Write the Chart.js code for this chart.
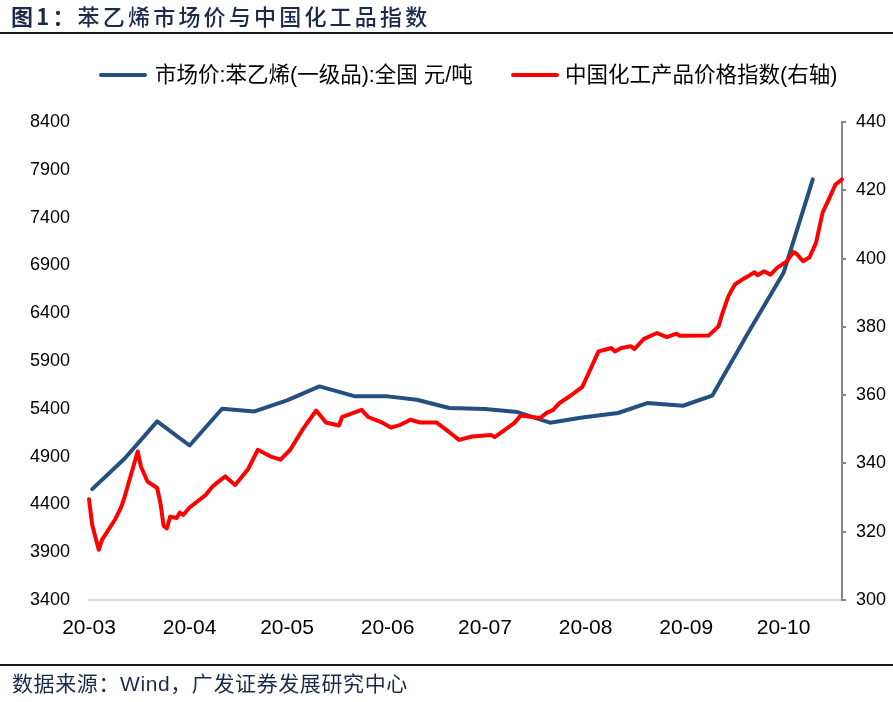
<!DOCTYPE html>
<html><head><meta charset="utf-8">
<script src="https://cdn.jsdelivr.net/npm/chart.js@4.4.1/dist/chart.umd.min.js"></script>
<style>
html,body{margin:0;padding:0;background:#fff;}
#wrap{position:relative;width:893px;height:702px;overflow:hidden;}
#c{position:absolute;left:0;top:0;}
#title{position:absolute;left:11px;top:2px;font-size:22px;letter-spacing:3.2px;color:#1b2a4a;font-family:"Noto Sans CJK SC",sans-serif;white-space:nowrap;line-height:26px;}
#title b{font-weight:700}
#title span{font-weight:500}
#tline{position:absolute;left:0;top:32px;width:893px;height:2px;background:#1a1a1a;}
#fline{position:absolute;left:0;top:664px;width:893px;height:2px;background:#1a1a1a;}
#foot{position:absolute;left:12px;top:672px;font-size:21px;letter-spacing:0.6px;color:#1b2a4a;font-family:"Liberation Sans","Noto Sans CJK SC",sans-serif;white-space:nowrap;line-height:24px;}
.lg{position:absolute;top:63px;height:24px;line-height:24px;font-size:21.5px;color:#000;font-family:"Liberation Sans","Noto Sans CJK SC",sans-serif;white-space:nowrap;}
.lg i{display:inline-block;width:48px;height:4px;border-radius:2px;vertical-align:middle;position:relative;top:-1px;}
</style>
</head><body>
<div id="wrap">
<canvas id="c" width="893" height="702"></canvas>
<div id="title"><b>图1：</b><span>苯乙烯市场价与中国化工品指数</span></div>
<div id="tline"></div>
<div id="legend"></div>
<div id="fline"></div>
<div id="foot">数据来源：Wind，广发证券发展研究中心</div>
</div>
<script>
// ---- data ----
const blueLabel = '市场价:苯乙烯(一级品):全国 元/吨';
const redLabel = '中国化工产品价格指数(右轴)';
const xTickDates = ['2020-03-02','2020-04-02','2020-05-02','2020-06-02','2020-07-02','2020-08-02','2020-09-02','2020-10-02'];
const xTickLabels = ['20-03','20-04','20-05','20-06','20-07','20-08','20-09','20-10'];
const xMin = '2020-03-02';
const xMax = '2020-10-20';

const blueDates = ['2020-03-03','2020-03-13','2020-03-23','2020-04-02','2020-04-12','2020-04-22','2020-05-02','2020-05-12','2020-05-23','2020-06-02','2020-06-11','2020-06-21','2020-07-02','2020-07-12','2020-07-22','2020-08-01','2020-08-12','2020-08-21','2020-09-01','2020-09-10','2020-09-21','2020-10-02','2020-10-11'];
const blueValues = [4560,4880,5268,5016,5400,5372,5488,5634,5530,5530,5495,5408,5398,5366,5255,5310,5356,5460,5432,5537,6190,6822,7800];

const redDates = ['2020-03-02','2020-03-03','2020-03-05','2020-03-06','2020-03-10','2020-03-12','2020-03-13','2020-03-17','2020-03-18','2020-03-20','2020-03-23','2020-03-24','2020-03-25','2020-03-26','2020-03-27','2020-03-29','2020-03-30','2020-03-31',
'2020-04-02','2020-04-07','2020-04-09','2020-04-10','2020-04-13','2020-04-16','2020-04-20','2020-04-23','2020-04-27','2020-04-30',
'2020-05-03','2020-05-07','2020-05-11','2020-05-14','2020-05-18','2020-05-19','2020-05-21','2020-05-25','2020-05-27','2020-05-31',
'2020-06-03','2020-06-06','2020-06-09','2020-06-12','2020-06-17','2020-06-20','2020-06-22','2020-06-24','2020-06-28',
'2020-07-04','2020-07-05','2020-07-11','2020-07-13','2020-07-19','2020-07-21','2020-07-23','2020-07-25','2020-07-28',
'2020-08-01','2020-08-02','2020-08-06','2020-08-10','2020-08-11','2020-08-13','2020-08-16','2020-08-17','2020-08-20','2020-08-24','2020-08-27','2020-08-30','2020-08-31',
'2020-09-09','2020-09-12','2020-09-13','2020-09-15','2020-09-17','2020-09-19','2020-09-21','2020-09-23','2020-09-24','2020-09-26','2020-09-28','2020-09-30',
'2020-10-03','2020-10-05','2020-10-06','2020-10-08','2020-10-10','2020-10-12','2020-10-14','2020-10-16','2020-10-18','2020-10-20'];
const redValues = [329.5,322.0,314.7,317.6,323.5,327.4,330.3,343.5,339.1,334.7,332.8,328.4,321.7,321.0,324.4,324.0,325.6,324.9,
327.1,330.8,333.2,334.0,336.2,333.7,338.3,344.0,342.0,341.1,
344.0,350.2,355.5,352.0,351.1,353.6,354.3,355.7,353.6,352.1,
350.5,351.3,352.8,352.0,352.0,349.9,348.4,346.9,347.9,
348.3,347.7,351.8,354.0,353.3,354.8,355.7,357.7,359.6,
362.4,364.5,372.8,373.8,372.8,373.8,374.3,373.5,376.5,378.2,377.0,378.0,377.4,
377.5,380.2,383.5,389.0,392.4,393.7,394.8,396.0,395.1,396.3,395.3,397.3,
399.2,401.9,401.4,399.2,400.4,404.6,413.4,417.5,421.7,423.2];

const leftTicks = {min:3400, max:8400, step:500};
const rightTicks = {min:300, max:440, step:20};

// ---- helpers ----
const base = (function(){const [y,m,d]=xMin.split('-').map(Number);return Date.UTC(y,m-1,d);})();
const off = s => { const [y,m,d] = s.split('-').map(Number); return (Date.UTC(y,m-1,d) - base)/86400000; };

const BLUE = '#24507f', RED = '#ff0000';

const chart = new Chart(document.getElementById('c'), {
  type: 'line',
  data: {
    datasets: [
      {label: blueLabel, data: blueDates.map((d,i)=>({x:off(d), y:blueValues[i]})), borderColor: BLUE, backgroundColor: BLUE,
       borderWidth: 4, pointRadius: 0, tension: 0, yAxisID: 'y', clip: false, borderCapStyle:'round', borderJoinStyle:'round', order: 1},
      {label: redLabel, data: redDates.map((d,i)=>({x:off(d), y:redValues[i]})), borderColor: RED, backgroundColor: RED,
       borderWidth: 4, pointRadius: 0, tension: 0, yAxisID: 'y1', clip: false, borderCapStyle:'round', borderJoinStyle:'round', order: 0}
    ]
  },
  options: {
    responsive: false, animation: false, devicePixelRatio: 1,
    layout: {padding: {left: 0, right: 0, top: 122, bottom: 62}},
    plugins: {legend: {display: false}, tooltip: {enabled: false}, title: {display: false}},
    scales: {
      x: {
        type: 'linear', min: off(xMin), max: off(xMax),
        afterBuildTicks: s => { s.ticks = xTickDates.map(d => ({value: off(d)})); },
        ticks: {callback: (v, i) => xTickLabels[i], autoSkip: false, maxRotation: 0, color: '#000', padding: 16,
                font: {family: 'Liberation Sans', size: 21}},
        grid: {display: false, drawTicks: false},
        border: {display: true, color: '#d9d9d9', width: 2},
        afterFit: s => { s.height = 40; }
      },
      y: {
        position: 'left', min: leftTicks.min, max: leftTicks.max,
        ticks: {stepSize: leftTicks.step, color: '#000', padding: 19, font: {family: 'Liberation Sans', size: 18},
                callback: v => String(v)},
        grid: {display: false, drawTicks: false},
        border: {display: false},
        afterFit: s => { s.width = 89; }
      },
      y1: {
        position: 'right', min: rightTicks.min, max: rightTicks.max,
        ticks: {stepSize: rightTicks.step, color: '#000', padding: 10, font: {family: 'Liberation Sans', size: 18},
                callback: v => String(v)},
        grid: {display: true, drawOnChartArea: false, drawTicks: true, tickLength: 4, color: '#868686', lineWidth: 2},
        border: {display: true, color: '#868686', width: 2},
        afterFit: s => { s.width = 51; }
      }
    }
  }
});

// legend built from the chart's datasets
const lg = document.getElementById('legend');
const legendPos = [{left: 99, gap: 8}, {left: 511, gap: 6}];
const legendOrder = [0, 1];
legendOrder.forEach((di, k) => {
  const ds = chart.data.datasets[di];
  const el = document.createElement('div');
  el.className = 'lg';
  el.style.left = legendPos[k].left + 'px';
  const sw = document.createElement('i');
  sw.style.background = ds.borderColor;
  sw.style.marginRight = legendPos[k].gap + 'px';
  el.appendChild(sw);
  el.appendChild(document.createTextNode(ds.label));
  lg.appendChild(el);
});
</script>
</body></html>
